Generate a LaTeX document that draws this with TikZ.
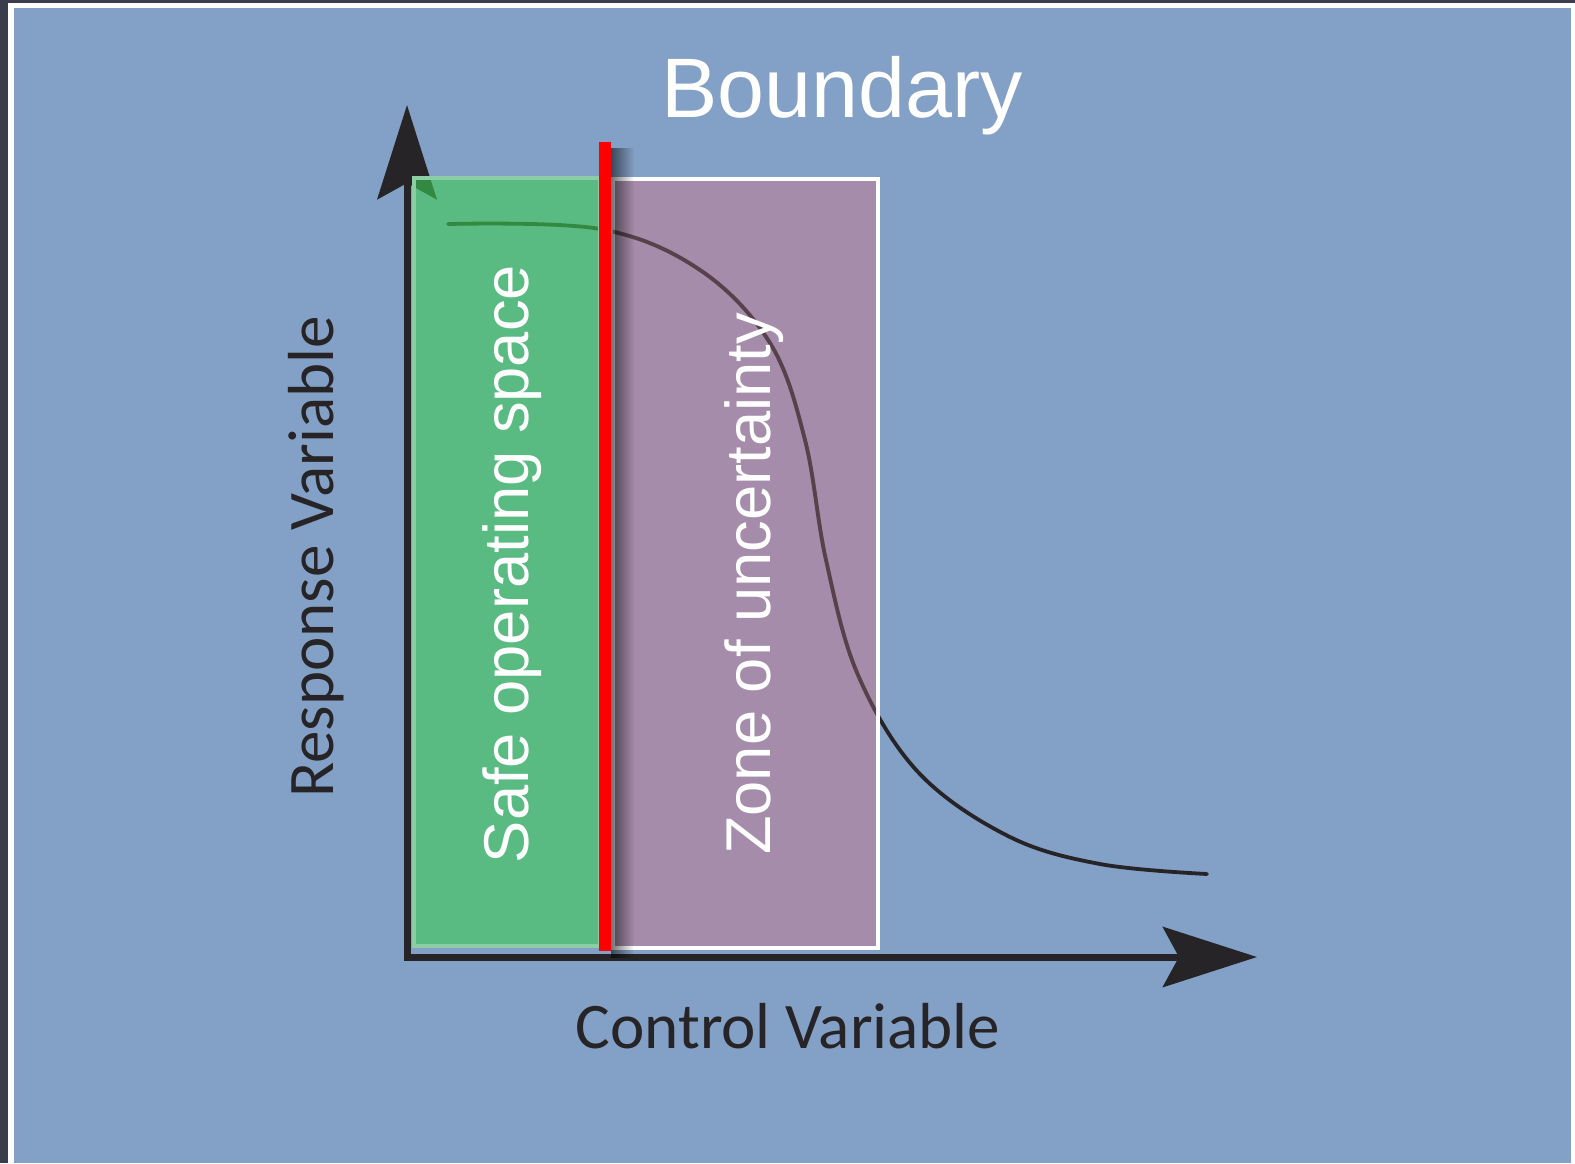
\documentclass[tikz,border=0pt]{standalone}
\usepackage{fontspec}
\setmainfont{Liberation Sans}
\newfontfamily\labelfont{Carlito}
\usetikzlibrary{arrows.meta,fadings}
\definecolor{frame}{RGB}{58,61,76}
\definecolor{sky}{RGB}{131,160,198}
\definecolor{safe}{RGB}{62,205,85}
\definecolor{safeedge}{RGB}{140,205,165}
\definecolor{zone}{RGB}{188,128,152}
\definecolor{ink}{RGB}{38,36,38}
\begin{document}
\begin{tikzpicture}[x=0.01cm,y=-0.01cm,
	axis/.style={ink,line width=0.07cm,line join=miter,
		{Stealth[length=0.94cm,width=0.59cm,inset=0.16cm]}-{Stealth[length=0.94cm,width=0.6cm,inset=0.16cm]}},
	axislabel/.style={ink,font=\labelfont\fontsize{18.5}{20}\selectfont,anchor=base},
	zonelabel/.style={white,font=\fontsize{18}{20}\selectfont,rotate=90,anchor=base},
	curve/.style={ink,line width=0.038cm,line cap=round}]
	\useasboundingbox (0,0) rectangle (1575,1163);
	% frame and background
	\fill[frame] (0,0) rectangle (1575,1163);
	\fill[white] (8,3) rectangle (1575,1163);
	\fill[sky] (14,8) rectangle (1571,1163);
	% axes
	\coordinate (o) at (407,957);
	\coordinate (ytip) at (407,105);
	\coordinate (xtip) at (1257,957);
	\draw[axis] (ytip) -- (o) -- (xtip);
	% response curve
	\def\respcurve{plot[smooth,tension=0.6] coordinates {(448,224) (600,229) (700,270)
		(770,343) (805,440) (826,560) (858,675) (918,772) (1008,836) (1100,864) (1207,874)}}
	\draw[curve] \respcurve;
	% zones
	\draw[safeedge,line width=0.04cm,fill=safe,fill opacity=0.6] (414,178) rectangle (600,946);
	\draw[white,line width=0.045cm,fill=zone,fill opacity=0.6] (613,179) rectangle (878,948);
	\begin{scope}
		\clip (613,179) rectangle (876,946);
		\draw[curve,opacity=0.45] \respcurve;
	\end{scope}
	\fill[black,opacity=0.55,path fading=east] (611,148) rectangle (634,958);
	% boundary line
	\coordinate (btop) at (605,142);
	\coordinate (bbot) at (605,951);
	\draw[red,line width=0.12cm] (btop) -- (bbot);
	% labels
	\node[white,font=\fontsize{24}{28}\selectfont,anchor=base] (boundary) at (842,117) {Boundary};
	\node[zonelabel] (safelabel) at (528,564) {Safe operating space};
	\node[zonelabel] (zonelabel) at (770,584) {Zone of uncertainty};
	\node[axislabel,rotate=90] (resplabel) at (333,557) {Response Variable};
	\node[axislabel] (ctrllabel) at (788,1048) {Control Variable};
\end{tikzpicture}
\end{document}
